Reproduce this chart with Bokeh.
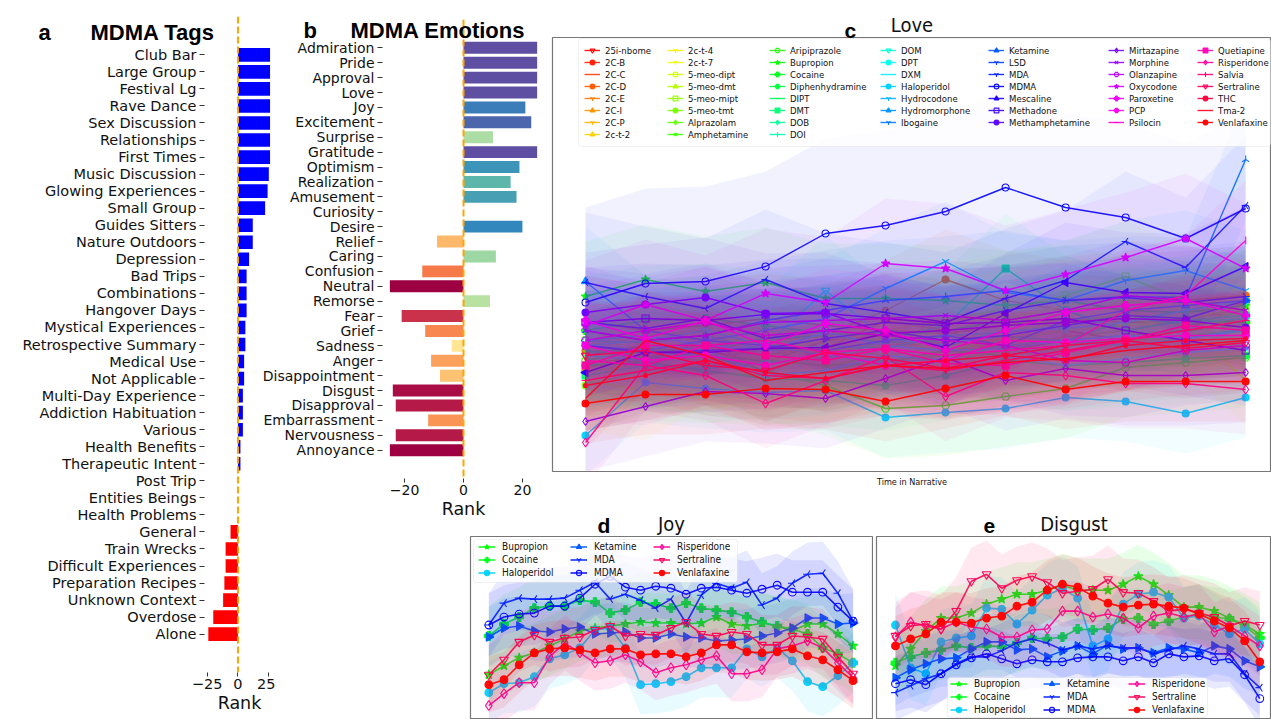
import colorsys
from math import pi
import numpy as np
from bokeh.plotting import figure
from bokeh.models import (Range1d, FixedTicker, Span, Label, Legend, LegendItem,
                          BoxAnnotation, Spacer, CustomJSTickFormatter)
from bokeh.layouts import row, column
from bokeh.embed import file_html
from bokeh.resources import INLINE

# ---------------- data: panel a (MDMA tags) ----------------
tag_names = ["Club Bar", "Large Group", "Festival Lg", "Rave Dance", "Sex Discussion",
             "Relationships", "First Times", "Music Discussion", "Glowing Experiences",
             "Small Group", "Guides Sitters", "Nature Outdoors", "Depression", "Bad Trips",
             "Combinations", "Hangover Days", "Mystical Experiences", "Retrospective Summary",
             "Medical Use", "Not Applicable", "Multi-Day Experience", "Addiction Habituation",
             "Various", "Health Benefits", "Therapeutic Intent", "Post Trip", "Entities Beings",
             "Health Problems", "General", "Train Wrecks", "Difficult Experiences",
             "Preparation Recipes", "Unknown Context", "Overdose", "Alone"]
tag_rank = [26, 26, 26, 26, 26, 26, 26, 25, 24, 22, 12, 12, 9, 7, 7, 7, 6, 6, 5, 5, 4, 4, 4,
            2, 2, 0, 0, 0, -6, -10, -10, -11, -12, -20, -24]

# ---------------- data: panel b (MDMA emotions) ----------------
emo_names = ["Admiration", "Pride", "Approval", "Love", "Joy", "Excitement", "Surprise",
             "Gratitude", "Optimism", "Realization", "Amusement", "Curiosity", "Desire",
             "Relief", "Caring", "Confusion", "Neutral", "Remorse", "Fear", "Grief", "Sadness",
             "Anger", "Disappointment", "Disgust", "Disapproval", "Embarrassment",
             "Nervousness", "Annoyance"]
emo_rank = [25, 25, 25, 25, 21, 23, 10, 25, 19, 16, 18, 0, 20, -9, 11, -14, -25, 9, -21, -13,
            -4, -11, -8, -24, -23, -12, -23, -25]

# ---------------- data: panel c (Love over narrative time) ----------------
drugs = ["25i-nbome", "2C-B", "2C-C", "2C-D", "2C-E", "2C-I", "2C-P", "2c-t-2", "2c-t-4",
         "2c-t-7", "5-meo-dipt", "5-meo-dmt", "5-meo-mipt", "5-meo-tmt", "Alprazolam",
         "Amphetamine", "Aripiprazole", "Bupropion", "Cocaine", "Diphenhydramine", "DIPT",
         "DMT", "DOB", "DOI", "DOM", "DPT", "DXM", "Haloperidol", "Hydrocodone",
         "Hydromorphone", "Ibogaine", "Ketamine", "LSD", "MDA", "MDMA", "Mescaline",
         "Methadone", "Methamphetamine", "Mirtazapine", "Morphine", "Olanzapine",
         "Oxycodone", "Paroxetine", "PCP", "Psilocin", "Quetiapine", "Risperidone",
         "Salvia", "Sertraline", "THC", "Tma-2", "Venlafaxine"]
love_time = [1, 2, 3, 4, 5, 6, 7, 8, 9, 10, 11, 12]

love_25i_nbome = [116, 126, 121, 109, 131, 136, 126, 133, 141, 131, 146, 153]
love_2c_b = [151, 141, 146, 153, 146, 141, 138, 146, 153, 149, 151, 149]
love_2c_c = [109, 113, 131, 99, 123, 151, 141, 121, 131, 136, 141, 146]
love_2c_d = [121, 119, 126, 131, 136, 161, 192, 171, 161, 166, 171, 176]
love_2c_e = [126, 113, 119, 133, 111, 126, 129, 123, 135, 141, 153, 161]
love_2c_i = [103, 116, 111, 123, 119, 131, 121, 126, 121, 129, 136, 171]
love_2c_p = [111, 105, 123, 116, 126, 116, 125, 133, 129, 131, 133, 141]
love_2c_t_2 = [141, 126, 119, 126, 129, 141, 151, 156, 146, 159, 153, 149]
love_2c_t_4 = [91, 81, 116, 113, 111, 136, 121, 134, 141, 146, 151, 166]
love_2c_t_7 = [113, 123, 131, 133, 121, 126, 123, 141, 149, 153, 146, 91]
love_5_meo_dipt = [126, 131, 133, 129, 136, 131, 141, 153, 166, 171, 161, 156]
love_5_meo_dmt = [99, 109, 103, 116, 121, 126, 121, 131, 141, 146, 151, 146]
love_5_meo_mipt = [131, 136, 141, 126, 123, 129, 151, 163, 176, 195, 171, 161]
love_5_meo_tmt = [86, 101, 106, 111, 106, 116, 111, 121, 126, 131, 136, 141]
love_alprazolam = [106, 111, 99, 96, 101, 111, 116, 126, 151, 156, 146, 161]
love_amphetamine = [119, 124, 116, 111, 106, 109, 121, 116, 126, 133, 136, 141]
love_aripiprazole = [111, 121, 116, 101, 86, 63, 66, 75, 83, 104, 109, 114]
love_bupropion = [175, 192, 180, 189, 173, 173, 171, 166, 171, 161, 159, 166]
love_cocaine = [141, 151, 153, 146, 138, 136, 141, 151, 161, 141, 151, 149]
love_diphenhydramine = [106, 109, 101, 93, 91, 86, 96, 111, 106, 109, 113, 116]
love_dipt = [121, 113, 123, 133, 136, 129, 131, 135, 131, 151, 161, 171]
love_dmt = [96, 106, 103, 109, 113, 131, 146, 203, 161, 141, 151, 156]
love_dob = [131, 129, 136, 121, 126, 123, 136, 139, 146, 153, 149, 153]
love_doi = [116, 111, 119, 126, 116, 109, 113, 126, 131, 126, 133, 143]
love_dom = [126, 131, 141, 126, 181, 133, 126, 141, 143, 149, 161, 171]
love_dpt = [106, 126, 121, 96, 101, 116, 111, 116, 106, 113, 119, 123]
love_dxm = [131, 136, 126, 121, 139, 126, 121, 123, 131, 136, 133, 141]
love_haloperidol = [36, 89, 83, 79, 81, 54, 59, 63, 74, 70, 58, 74]
love_hydrocodone = [126, 121, 131, 141, 153, 183, 210, 179, 171, 191, 201, 181]
love_hydromorphone = [190, 141, 131, 126, 121, 131, 136, 126, 151, 161, 166, 171]
love_ibogaine = [141, 131, 136, 151, 161, 171, 175, 181, 171, 175, 174, 312]
love_ketamine = [126, 119, 121, 123, 133, 141, 131, 136, 146, 156, 153, 171]
love_lsd = [149, 143, 153, 133, 141, 149, 146, 161, 171, 174, 169, 175]
love_mda = [189, 175, 163, 192, 168, 159, 149, 173, 191, 230, 204, 266]
love_mdma = [169, 188, 190, 205, 238, 246, 260, 284, 264, 254, 233, 263]
love_mescaline = [99, 119, 119, 123, 124, 138, 124, 158, 189, 179, 178, 205]
love_methadone = [149, 153, 151, 157, 158, 153, 148, 149, 153, 141, 131, 121]
love_methamphetamine = [159, 167, 174, 158, 159, 138, 141, 146, 149, 153, 151, 144]
love_mirtazapine = [50, 65, 80, 78, 73, 93, 114, 91, 103, 96, 96, 99]
love_morphine = [141, 131, 136, 149, 151, 153, 156, 151, 161, 176, 171, 161]
love_olanzapine = [131, 141, 149, 136, 141, 136, 131, 126, 111, 109, 121, 126]
love_oxycodone = [146, 167, 151, 178, 169, 208, 203, 181, 197, 214, 233, 203]
love_paroxetine = [151, 133, 151, 126, 148, 141, 121, 141, 159, 166, 171, 156]
love_pcp = [126, 111, 116, 106, 119, 106, 111, 131, 129, 133, 136, 136]
love_psilocin = [111, 106, 126, 131, 119, 123, 116, 121, 126, 161, 176, 231]
love_quetiapine = [106, 126, 126, 116, 111, 123, 108, 106, 119, 131, 146, 141]
love_risperidone = [29, 106, 96, 68, 91, 115, 75, 99, 96, 88, 88, 82]
love_salvia = [91, 101, 111, 96, 93, 106, 101, 111, 121, 131, 141, 151]
love_sertraline = [116, 121, 106, 101, 119, 113, 103, 116, 126, 131, 123, 129]
love_thc = [86, 96, 111, 99, 93, 106, 111, 116, 111, 126, 131, 133]
love_tma_2 = [73, 131, 116, 91, 99, 106, 103, 109, 113, 121, 126, 131]
love_venlafaxine = [68, 77, 77, 83, 82, 70, 83, 96, 82, 90, 90, 90]

love_spread = [50, 45, 50, 50, 45, 50, 45, 50, 50, 45, 50, 45, 55, 45, 50, 45, 50, 55, 55, 45,
               50, 55, 50, 45, 55, 45, 50, 40, 60, 55, 60, 55, 55, 70, 95, 60, 55, 60, 50, 55,
               55, 65, 55, 45, 60, 50, 45, 50, 50, 45, 50, 40]

love_series = [love_25i_nbome, love_2c_b, love_2c_c, love_2c_d, love_2c_e, love_2c_i, love_2c_p,
               love_2c_t_2, love_2c_t_4, love_2c_t_7, love_5_meo_dipt, love_5_meo_dmt,
               love_5_meo_mipt, love_5_meo_tmt, love_alprazolam, love_amphetamine,
               love_aripiprazole, love_bupropion, love_cocaine, love_diphenhydramine, love_dipt,
               love_dmt, love_dob, love_doi, love_dom, love_dpt, love_dxm, love_haloperidol,
               love_hydrocodone, love_hydromorphone, love_ibogaine, love_ketamine, love_lsd,
               love_mda, love_mdma, love_mescaline, love_methadone, love_methamphetamine,
               love_mirtazapine, love_morphine, love_olanzapine, love_oxycodone, love_paroxetine,
               love_pcp, love_psilocin, love_quetiapine, love_risperidone, love_salvia,
               love_sertraline, love_thc, love_tma_2, love_venlafaxine]

# ---------------- data: panels d, e (Joy / Disgust) ----------------
sub_drugs = ["Bupropion", "Cocaine", "Haloperidol", "Ketamine", "MDA", "MDMA",
             "Risperidone", "Sertraline", "Venlafaxine"]
sub_time = list(range(1, 26))

joy_bupropion = [45, 54, 62, 67, 74, 81, 89, 92, 94, 96, 98, 97, 97, 96, 97, 103, 96, 94, 97, 94, 89, 96, 96, 86, 74]
joy_cocaine = [84, 96, 103, 112, 114, 114, 120, 118, 107, 110, 118, 116, 112, 117, 112, 110, 108, 103, 98, 94, 91, 86, 72, 66, 57]
joy_haloperidol = [27, 36, 37, 43, 61, 65, 72, 90, 92, 72, 35, 36, 38, 43, 52, 52, 52, 71, 63, 72, 59, 38, 33, 44, 57]
joy_ketamine = [83, 92, 94, 89, 88, 91, 93, 86, 87, 88, 82, 82, 86, 83, 82, 79, 80, 81, 84, 87, 92, 102, 102, 96, 97]
joy_mda = [95, 117, 122, 121, 121, 122, 130, 138, 121, 126, 120, 112, 121, 97, 125, 137, 132, 138, 115, 122, 137, 146, 147, 127, 99]
joy_mdma = [95, 103, 106, 107, 114, 114, 122, 136, 144, 133, 130, 134, 132, 126, 132, 133, 130, 127, 131, 135, 128, 128, 128, 113, 99]
joy_risperidone = [14, 26, 37, 37, 63, 77, 67, 57, 59, 65, 58, 47, 52, 55, 60, 64, 46, 46, 50, 71, 74, 79, 72, 57, 42]
joy_sertraline = [45, 60, 78, 85, 78, 82, 83, 90, 94, 84, 86, 85, 92, 98, 86, 84, 88, 86, 75, 75, 84, 83, 81, 63, 46]
joy_venlafaxine = [35, 40, 55, 67, 71, 72, 70, 67, 71, 71, 65, 66, 66, 63, 67, 75, 75, 68, 67, 68, 71, 64, 60, 50, 39]
joy_spread = [30, 30, 30, 30, 32, 32, 28, 30, 28]

disgust_bupropion = [54, 71, 89, 102, 102, 107, 116, 121, 126, 126, 130, 135, 130, 130, 130, 136, 144, 136, 125, 113, 113, 109, 102, 95, 86]
disgust_cocaine = [57, 63, 67, 70, 74, 72, 74, 73, 77, 82, 81, 83, 91, 90, 92, 101, 102, 96, 99, 103, 106, 103, 101, 94, 82]
disgust_haloperidol = [95, 52, 46, 78, 82, 84, 112, 111, 96, 110, 125, 132, 122, 74, 81, 116, 126, 128, 123, 102, 104, 95, 86, 91, 76]
disgust_ketamine = [42, 50, 56, 61, 62, 71, 78, 78, 70, 71, 63, 69, 74, 66, 75, 71, 72, 67, 72, 71, 67, 74, 71, 59, 53]
disgust_mda = [27, 34, 41, 46, 56, 63, 63, 69, 77, 81, 77, 70, 74, 71, 74, 72, 72, 66, 70, 74, 71, 66, 66, 46, 32]
disgust_mdma = [36, 40, 35, 46, 55, 62, 66, 61, 56, 60, 58, 58, 62, 63, 63, 59, 63, 57, 66, 63, 64, 59, 61, 45, 21]
disgust_risperidone = [83, 98, 94, 91, 98, 93, 91, 83, 83, 90, 91, 109, 109, 103, 106, 102, 92, 104, 107, 103, 106, 88, 94, 84, 74]
disgust_sertraline = [84, 94, 96, 91, 109, 139, 146, 132, 140, 144, 138, 127, 129, 131, 141, 128, 127, 119, 109, 111, 107, 103, 94, 99, 95]
disgust_venlafaxine = [74, 81, 86, 98, 98, 97, 102, 104, 114, 118, 130, 136, 133, 124, 117, 113, 115, 116, 114, 112, 106, 99, 92, 79, 58]
disgust_spread = [32, 30, 32, 28, 28, 28, 30, 34, 30]

joy_series = [joy_bupropion, joy_cocaine, joy_haloperidol, joy_ketamine, joy_mda, joy_mdma,
              joy_risperidone, joy_sertraline, joy_venlafaxine]
disgust_series = [disgust_bupropion, disgust_cocaine, disgust_haloperidol, disgust_ketamine,
                  disgust_mda, disgust_mdma, disgust_risperidone, disgust_sertraline,
                  disgust_venlafaxine]

# ---------------- styling helpers ----------------
SANS = "DejaVu Sans"
COND = "DejaVu Sans Condensed"
BOLD = "Liberation Sans"
INK = "#111111"


def drug_color(i, n=len(drugs)):
    r, g, b = colorsys.hsv_to_rgb(i / (n - 1), 1.0, 1.0)
    return "#%02x%02x%02x" % (round(r * 255), round(g * 255), round(b * 255))


SPECTRAL = ["#9e0142", "#d53e4f", "#f46d43", "#fdae61", "#fee08b", "#ffffbf",
            "#e6f598", "#abdda4", "#66c2a5", "#3288bd", "#5e4fa2"]


def spectral(v, lo=-25.0, hi=25.0):
    t = min(max((v - lo) / (hi - lo), 0.0), 1.0) * 10
    k = min(int(t), 9)
    f = t - k
    a = [int(SPECTRAL[k][j:j + 2], 16) for j in (1, 3, 5)]
    b = [int(SPECTRAL[k + 1][j:j + 2], 16) for j in (1, 3, 5)]
    c = [round(a[m] + (b[m] - a[m]) * f) for m in range(3)]
    return "#%02x%02x%02x" % tuple(c)


# (marker, filled, angle, size) cycling every 24 series
MARKERS = [
    ("inverted_triangle", False, 0, 8), ("circle", True, 0, 4), (None, False, 0, 0),
    ("circle", True, 0, 7), ("y", False, 0, 8), ("triangle", True, 0, 8),
    ("y", False, pi, 8), ("triangle", True, -pi / 2, 8), ("y", False, pi / 2, 8),
    ("y", False, -pi / 2, 8), ("circle", False, 0, 7), ("triangle", True, pi / 2, 8),
    ("square", False, 0, 7), ("circle", True, 0, 7), ("diamond", False, 0, 8),
    ("x", False, 0, 7), ("hex", False, 0, 8), ("star", True, 0, 9),
    ("plus", True, 0, 8), ("hex", True, 0, 8), ("dash", False, pi / 2, 8),
    ("square", True, 0, 7), ("diamond", False, 0, 9), ("cross", False, 0, 8),
]

minus_fmt = "return tick < 0 ? '\u2212' + Math.abs(tick) : String(tick);"


def new_fig(**kw):
    return figure(toolbar_location=None, tools="", output_backend="svg", frame_align=False, **kw)


def draw_series(p, x, vals, spread, idx, band_alpha, lw, size_scale=1.0):
    col = drug_color(idx)
    v = np.asarray(vals, dtype=float)
    p.varea(x=x, y1=v - spread, y2=v + spread, fill_color=col, fill_alpha=band_alpha)
    rl = p.line(x=x, y=v, line_color=col, line_width=lw, line_alpha=0.9)
    m, filled, ang, size = MARKERS[idx % 24]
    rends = [rl]
    if m is not None:
        rs = p.scatter(x=x, y=v, marker=m, size=size * size_scale, angle=ang,
                       line_color=col, line_width=1.1, line_alpha=0.95,
                       fill_color=col if filled else None, fill_alpha=0.95)
        rends.append(rs)
    return rends


def style_title(p, text, standoff):
    p.title.text = text
    p.title.align = "center"
    p.title.text_font = COND
    p.title.text_font_size = "20px"
    p.title.text_font_style = "normal"
    p.title.text_color = INK
    p.title.standoff = standoff


def style_bar_axes(p, names, xticks, fs):
    p.grid.visible = False
    p.outline_line_color = None
    p.border_fill_color = None
    p.background_fill_color = None
    p.yaxis.ticker = FixedTicker(ticks=list(range(len(names))))
    p.yaxis.formatter = CustomJSTickFormatter(args=dict(names=names),
                                              code="return names[Math.round(tick)] || '';")
    p.yaxis.axis_line_color = None
    p.yaxis.major_tick_out = 5
    p.yaxis.major_tick_in = 0
    p.yaxis.minor_tick_line_color = None
    p.yaxis.major_label_standoff = 3
    p.yaxis.major_label_text_font = SANS
    p.yaxis.major_label_text_font_size = fs
    p.yaxis.major_label_text_color = INK
    p.yaxis.major_tick_line_color = "#333333"
    p.xaxis.ticker = FixedTicker(ticks=xticks)
    p.xaxis.formatter = CustomJSTickFormatter(code=minus_fmt)
    p.xaxis.axis_line_color = None
    p.xaxis.major_tick_out = 4
    p.xaxis.major_tick_in = 0
    p.xaxis.minor_tick_line_color = None
    p.xaxis.major_label_standoff = 2
    p.xaxis.major_label_text_font = SANS
    p.xaxis.major_label_text_font_size = fs
    p.xaxis.major_label_text_color = INK
    p.xaxis.major_tick_line_color = "#333333"
    p.xaxis.axis_label = "Rank"
    p.xaxis.axis_label_text_font = SANS
    p.xaxis.axis_label_text_font_style = "normal"
    p.xaxis.axis_label_text_font_size = "17.5px"
    p.xaxis.axis_label_text_color = INK
    p.xaxis.axis_label_standoff = 1
    p.add_layout(Span(location=0, dimension="height", line_color="#ffa500",
                      line_dash="7 3", line_width=2))


# ---------------- panel a ----------------
na = len(tag_names)
pa = new_fig(width=275, height=719, x_range=Range1d(-27.1, 29.6),
             y_range=Range1d(na - 1 + 2.25, -2.25),
             min_border_left=204, min_border_right=1, min_border_top=16, min_border_bottom=47)
pa.hbar(y=list(range(na)), left=0, right=tag_rank, height=0.8,
        fill_color=["blue" if r > 0 else "red" for r in tag_rank], line_color=None)
style_bar_axes(pa, tag_names, [-25, 0, 25], "14.5px")

# ---------------- panel b ----------------
nb = len(emo_names)
pb = new_fig(width=303, height=525, x_range=Range1d(-27.5, 27.5),
             y_range=Range1d(nb - 1 + 1.9, -1.9),
             min_border_left=135, min_border_right=6, min_border_top=19, min_border_bottom=47)
pb.hbar(y=list(range(nb)), left=0, right=emo_rank, height=0.8,
        fill_color=[spectral(r) for r in emo_rank], line_color=None)
style_bar_axes(pb, emo_names, [-20, 0, 20], "14px")
pb.margin = (0, 0, 0, -28)

# ---------------- panel c ----------------
pc = new_fig(width=721, height=525, x_range=Range1d(0.45, 12.43), y_range=Range1d(0, 434),
             min_border_left=2, min_border_right=0, min_border_top=37, min_border_bottom=54,
             x_axis_location="below", y_axis_location=None)
pc.grid.visible = False
pc.outline_line_color = "#777777"
pc.outline_line_width = 1.2
pc.xaxis.ticker = FixedTicker(ticks=[])
pc.xaxis.axis_line_color = None
pc.xaxis.major_tick_out = 0
pc.xaxis.major_label_standoff = 0
pc.xaxis.axis_label = "Time in Narrative"
pc.xaxis.axis_label_text_font = COND
pc.xaxis.axis_label_text_font_style = "normal"
pc.xaxis.axis_label_text_font_size = "9px"
pc.xaxis.axis_label_text_color = INK
pc.xaxis.axis_label_standoff = 5
style_title(pc, "Love", 2)

love_rends = []
for i, vals in enumerate(love_series):
    love_rends.append(draw_series(pc, love_time, vals, love_spread[i], i, 0.05, 1.4))

pc.add_layout(BoxAnnotation(left=26, right=718, bottom=325, top=433, left_units="screen",
                            right_units="screen", bottom_units="screen", top_units="screen",
                            fill_color="white", fill_alpha=0.8, line_color="#cccccc",
                            line_width=1, border_radius=3))
col_counts = [8, 8, 8, 7, 7, 7, 7]
col_x = [32, 115, 217, 328, 436, 556, 645]
start = 0
for k, n in enumerate(col_counts):
    items = [LegendItem(label=drugs[j], renderers=love_rends[j]) for j in range(start, start + n)]
    start += n
    pc.add_layout(Legend(items=items, location=(col_x[k], 434 - 7 - 12 * n),
                         orientation="vertical", border_line_color=None,
                         background_fill_alpha=0, padding=0, margin=0, spacing=0,
                         glyph_height=12, glyph_width=16, label_height=12, label_standoff=5,
                         label_text_font=COND, label_text_font_size="9.5px",
                         label_text_color=INK))


# ---------------- panels d & e ----------------
def small_panel(width, mbl, mbr, xr, title, series, spreads, leg_x, leg_y, box):
    p = new_fig(width=width, height=211, x_range=Range1d(*xr), y_range=Range1d(0, 184),
                min_border_left=mbl, min_border_right=mbr, min_border_top=27,
                min_border_bottom=0, x_axis_location=None, y_axis_location=None)
    p.grid.visible = False
    p.border_fill_color = None
    p.outline_line_color = "#777777"
    p.outline_line_width = 1.2
    style_title(p, title, 2)
    rends = []
    for j, vals in enumerate(series):
        rends.append(draw_series(p, sub_time, vals, spreads[j], drugs.index(sub_drugs[j]),
                                 0.09, 1.6, 1.1))
    p.add_layout(BoxAnnotation(left=box[0], right=box[1], bottom=box[2], top=box[3],
                               left_units="screen", right_units="screen",
                               bottom_units="screen", top_units="screen",
                               fill_color="white", fill_alpha=0.8, line_color="#cccccc",
                               line_width=1, border_radius=3))
    for k in range(3):
        items = [LegendItem(label=sub_drugs[3 * k + r], renderers=rends[3 * k + r])
                 for r in range(3)]
        p.add_layout(Legend(items=items, location=(leg_x[k], leg_y), orientation="vertical",
                            border_line_color=None, background_fill_alpha=0, padding=0,
                            margin=0, spacing=0, glyph_height=13, glyph_width=17,
                            label_height=13, label_standoff=7,
                            label_text_font=COND, label_text_font_size="10px",
                            label_text_color=INK))
    return p


pd_ = small_panel(408, 5, 1, (-0.206, 26.28), "Joy", joy_series, joy_spread,
                  [8, 100, 183], 140, (3, 267, 137, 180))
pe_ = small_panel(398, 3, 0, (-0.25, 25.77), "Disgust", disgust_series, disgust_spread,
                  [74, 167, 252], 3, (71, 331, 2, 42))

# ---------------- transparent overlay carrying the panel letters / headings ----------------
ov = new_fig(width=1271, height=719, x_range=Range1d(0, 1271), y_range=Range1d(719, 0),
             min_border=0, x_axis_location=None, y_axis_location=None)
ov.grid.visible = False
ov.outline_line_color = None
ov.background_fill_color = None
ov.border_fill_color = None
ov.margin = (-719, 0, 0, 0)
for txt, x, y, size in [("a", 38, 32, "22px"), ("MDMA Tags", 90, 32, "22px"),
                        ("b", 303, 30, "22px"), ("MDMA Emotions", 350, 30, "22px"),
                        ("c", 844, 30, "21px"), ("d", 597, 525, "21px"),
                        ("e", 983, 525, "21px")]:
    ov.add_layout(Label(x=x, y=y, text=txt, text_font=BOLD, text_font_style="bold",
                        text_font_size=size, text_baseline="alphabetic", text_align="left",
                        text_color="black"))

bottom = row(Spacer(width=190, height=211), pd_, pe_, margin=(-17, 0, 0, 0))
right = column(row(pb, pc), bottom)
main = row(pa, right)
layout = column(main, ov)

open("out.html", "w").write(file_html(layout, INLINE))
